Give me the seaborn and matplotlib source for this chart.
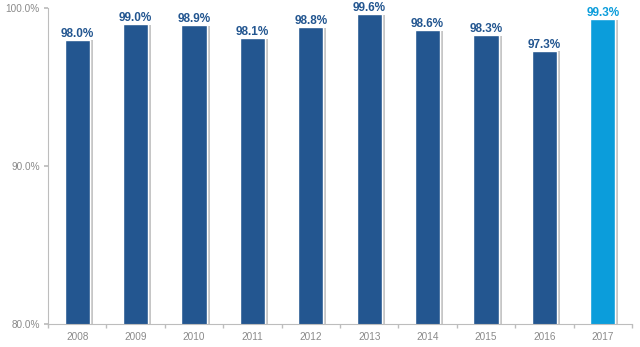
import matplotlib
matplotlib.use("Agg")
import matplotlib.pyplot as plt
import matplotlib.patheffects as pe
from matplotlib.ticker import FixedLocator, PercentFormatter
import seaborn as sns
import pandas as pd

years = ["2008", "2009", "2010", "2011", "2012", "2013", "2014", "2015", "2016", "2017"]
rates = [98.0, 99.0, 98.9, 98.1, 98.8, 99.6, 98.6, 98.3, 97.3, 99.3]
groups = ["past"] * 9 + ["current"]

DARK = "#235690"
LIGHT = "#0b9ddb"
GREY = "#8a8a8a"
AXIS = "#bdbdbd"

df = pd.DataFrame({"year": years, "rate": rates, "group": groups})

sns.set_theme(style="white")
plt.rcParams["font.family"] = ["Liberation Sans", "DejaVu Sans"]

fig = plt.figure(figsize=(6.4, 3.47), dpi=100)
ax = fig.add_axes([0.075, 0.066, 0.9125, 0.911])

sns.barplot(data=df, x="year", y="rate", hue="group",
            palette={"past": DARK, "current": LIGHT}, saturation=1,
            width=0.43, dodge=False, legend=False, ax=ax)

# soft drop shadow on the right edge of each bar
for bar in ax.patches:
    bar.set_path_effects([pe.SimplePatchShadow(offset=(2.2, -0.6), shadow_rgbFace="#a0a0a0", alpha=0.6),
                          pe.Normal()])

for i, (v, g) in enumerate(zip(rates, groups)):
    ax.annotate(f"{v:.1f}%", xy=(i, v), xytext=(0, 2.2), textcoords="offset points",
                ha="center", va="baseline", fontsize=8.5, fontweight="bold",
                color=LIGHT if g == "current" else DARK, annotation_clip=False)

ax.set_ylim(80, 100)
ax.set_xlim(-0.5, len(years) - 0.5)
ax.yaxis.set_major_locator(FixedLocator([80, 90, 100]))
ax.yaxis.set_major_formatter(PercentFormatter(decimals=1))
ax.set_xlabel("")
ax.set_ylabel("")

for s in ["top", "right"]:
    ax.spines[s].set_visible(False)
for s in ["left", "bottom"]:
    ax.spines[s].set_color(AXIS)
    ax.spines[s].set_linewidth(0.8)

ax.xaxis.set_minor_locator(FixedLocator([i + 0.5 for i in range(-1, len(years))]))
ax.tick_params(axis="x", which="major", length=0, pad=5.5, labelsize=7.2, labelcolor=GREY)
ax.tick_params(axis="x", which="minor", length=3, color=AXIS, bottom=True)
ax.tick_params(axis="y", which="major", length=3, color=AXIS, left=True,
               labelsize=7.2, labelcolor=GREY, pad=3)

fig.savefig("out.png", dpi=100)
